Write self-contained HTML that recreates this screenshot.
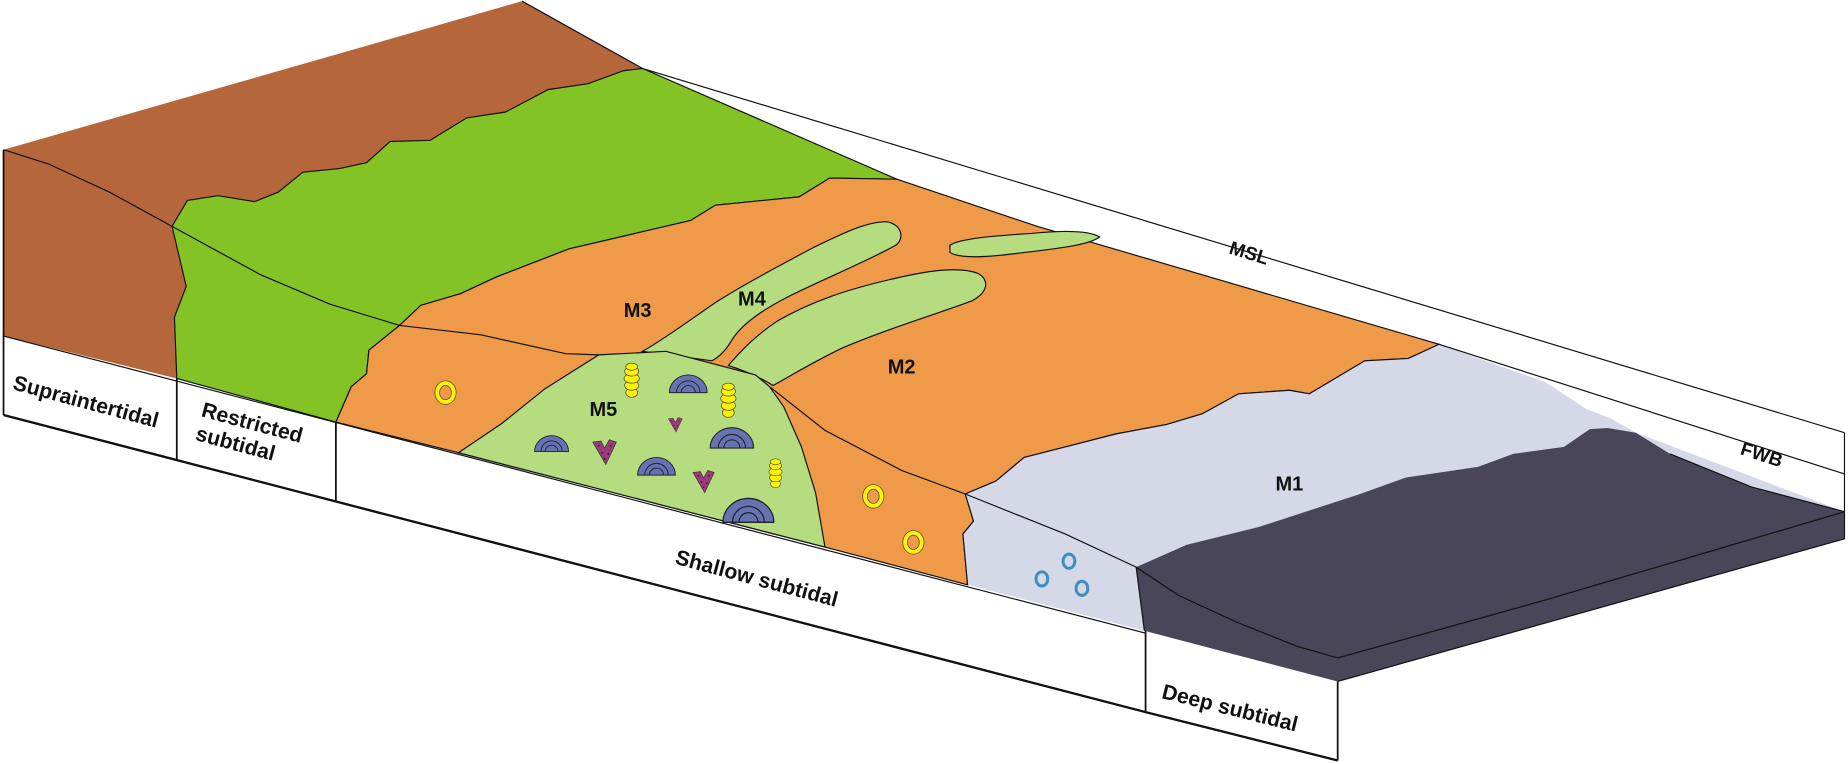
<!DOCTYPE html>
<html><head><meta charset="utf-8"><style>
html,body{margin:0;padding:0;background:#fff;}
svg{display:block;}
text{font-family:"Liberation Sans",sans-serif;font-weight:bold;fill:#111;}
</style></head><body>
<svg width="1848" height="764" viewBox="0 0 1568 648" preserveAspectRatio="none" xmlns="http://www.w3.org/2000/svg">
<defs>
<g id="dome"><path d="M-16,0 A16,15 0 0 1 16,0 Z" fill="#6573b4" stroke="#222" stroke-width="0.8"/><path d="M-10,0 A10,10 0 0 1 10,0 M-6,0 A6,6 0 0 1 6,0" fill="none" stroke="#222" stroke-width="0.8"/></g>
<g id="cyl" stroke="#444" stroke-width="0.6" fill="#fff200"><ellipse cx="0" cy="11" rx="5" ry="4"/><ellipse cx="0" cy="5" rx="6" ry="4"/><ellipse cx="0" cy="-1" rx="6.5" ry="4"/><ellipse cx="0" cy="-7" rx="6" ry="4"/><ellipse cx="0" cy="-11" rx="5" ry="3"/></g>
<g id="vee"><path d="M-10,-8 L-3,-9 L0,-3 L4,-10 L10,-8 L1,11 Z" fill="#9b3a7a" stroke="#333" stroke-width="0.6"/><g fill="#222"><circle cx="-5" cy="-5" r="0.8"/><circle cx="5" cy="-5" r="0.8"/><circle cx="-2" cy="1" r="0.8"/><circle cx="3" cy="2" r="0.8"/><circle cx="0" cy="6" r="0.8"/></g></g>
</defs>

<polygon points="3,285 972,537 1135,578 1135,645 972,604 3,352" fill="#fff"/>

<polygon points="3,127 443,1 545,58 529,60 499,71 465,76 429,95 396,100 365,119 331,120 311,138 288,143 257,146 236,163 216,171 185,166 159,170 146,192 158,243 148,269 150,321 3,285" fill="#b5663b"/>
<polygon points="545,58 761,152 704,151 678,167 607,174 586,187 483,211 421,235 391,249 357,259 339,276 313,297 311,317 298,328 285,358 150,321 148,269 158,243 146,192 159,170 185,166 216,171 236,163 257,146 288,143 311,138 331,120 365,119 396,100 429,95 465,76 499,71 529,60" fill="#84c326" stroke="#111" stroke-width="1"/>
<polygon points="761,152 880,192 1221,292 1195,304 1158,306 1111,334 1094,331 1051,334 1020,351 990,360 947,368 908,378 869,388 845,408 819,419 826,442 817,453 821,496 700,464 389,384 285,358 298,328 311,317 313,297 339,276 357,259 391,249 421,235 483,211 586,187 607,174 678,167 704,151" fill="#ee9a49" stroke="#111" stroke-width="1"/>
<polygon points="1221,292 1195,304 1158,306 1111,334 1094,331 1051,334 1020,351 990,360 947,368 908,378 869,388 845,408 819,419 826,442 817,453 821,496 971,535 1135,578 1565,457 1565,434 1388,367 1367,355 1346,347 1311,324" fill="#d5d8e6"/>
<polyline points="1221,292 1195,304 1158,306 1111,334 1094,331 1051,334 1020,351 990,360 947,368 908,378 869,388 845,408 819,419 826,442 817,453 821,496" fill="none" stroke="#111" stroke-width="1"/>
<polygon points="964,481 1007,462 1068,447 1154,419 1193,405 1254,396 1284,385 1327,379 1349,364 1364,363 1388,367 1417,385 1486,413 1565,434 1565,457 1135,578 971,535" fill="#4a4659"/>
<polyline points="1417,385 1486,413 1565,434 1565,457 1135,578" fill="none" stroke="#111" stroke-width="1"/>
<polyline points="964,481 971,535" fill="none" stroke="#111" stroke-width="1"/>

<!-- M4 lobes -->
<path d="M545,298 C565,287 590,268 608,256 C630,242 660,226 690,210 C715,198 735,188 752,188 C765,190 768,202 760,208 C735,222 700,236 668,252 C645,264 628,276 620,290 C615,298 610,303 604,306 Z" fill="#b6dc80" stroke="#111" stroke-width="1"/>
<path d="M618,310 C630,296 642,284 660,272 C690,255 720,245 760,236 C790,229 815,226 830,232 C840,238 838,248 825,255 C790,268 750,280 715,295 C690,307 672,318 656,327 C645,320 630,314 618,310 Z" fill="#b6dc80" stroke="#111" stroke-width="1"/>
<path d="M806,208 C815,202 845,200 875,198 C905,195 925,196 933,201 C925,207 905,210 870,214 C840,218 815,220 806,214 Z" fill="#b6dc80" stroke="#111" stroke-width="1"/>

<polygon points="389,384 426,359 462,330 508,301 565,298 641,318 653,328 665,345 680,379 692,418 700,464" fill="#b6dc80" stroke="#111" stroke-width="1"/>

<polyline points="3,127 41,139 93,163 146,192 221,233 280,258 339,276 408,284 480,300 508,301" fill="none" stroke="#111" stroke-width="1"/>
<polyline points="653,328 700,365 765,399 819,419 869,439 904,453 964,481 1000,505 1050,528 1100,548 1135,558 1311,509 1565,434" fill="none" stroke="#111" stroke-width="1"/>

<line x1="443" y1="1" x2="545" y2="58" stroke="#111" stroke-width="1"/>
<line x1="545" y1="58" x2="1565" y2="367" stroke="#111" stroke-width="1"/>
<line x1="1221" y1="292" x2="1565" y2="402" stroke="#111" stroke-width="1"/>
<line x1="1565" y1="367" x2="1565" y2="434" stroke="#111" stroke-width="1"/>

<g stroke="#111" fill="none">
<line x1="3" y1="127" x2="3" y2="352" stroke-width="1.5"/>
<line x1="3" y1="352" x2="972" y2="604" stroke-width="2"/>
<line x1="3" y1="285" x2="972" y2="537" stroke-width="1"/>
<line x1="150" y1="321" x2="150" y2="390" stroke-width="1.5"/>
<line x1="285" y1="358" x2="285" y2="425" stroke-width="1.5"/>
<line x1="972" y1="535" x2="972" y2="604" stroke-width="1.5"/>
<line x1="972" y1="604" x2="1135" y2="645" stroke-width="2"/>
<line x1="1135" y1="578" x2="1135" y2="645" stroke-width="1.5"/>
</g>

<g fill="none" stroke="#fff200" stroke-width="4">
<ellipse cx="378" cy="333" rx="7" ry="8"/>
<ellipse cx="741" cy="421" rx="7" ry="8"/>
<ellipse cx="775" cy="460" rx="7" ry="8"/>
</g>
<g fill="none" stroke="#444" stroke-width="0.6">
<ellipse cx="378" cy="333" rx="9" ry="10"/><ellipse cx="378" cy="333" rx="5" ry="6"/>
<ellipse cx="741" cy="421" rx="9" ry="10"/><ellipse cx="741" cy="421" rx="5" ry="6"/>
<ellipse cx="775" cy="460" rx="9" ry="10"/><ellipse cx="775" cy="460" rx="5" ry="6"/>
</g>
<g fill="none" stroke="#3a8fc4" stroke-width="2.5">
<ellipse cx="884" cy="491" rx="5" ry="6"/>
<ellipse cx="907" cy="476" rx="5" ry="6"/>
<ellipse cx="918" cy="499" rx="5" ry="6"/>
</g>
<use href="#cyl" transform="translate(536,322)"/>
<use href="#cyl" transform="translate(618,339)"/>
<use href="#cyl" transform="translate(658,401) scale(0.85)"/>
<use href="#dome" transform="translate(584,333)"/>
<use href="#dome" transform="translate(468,383) scale(0.9)"/>
<use href="#dome" transform="translate(621,380) scale(1.15)"/>
<use href="#dome" transform="translate(557,403)"/>
<use href="#dome" transform="translate(635,443) scale(1.35)"/>
<use href="#vee" transform="translate(573,360) scale(0.6)"/>
<use href="#vee" transform="translate(513,383) scale(1.0)"/>
<use href="#vee" transform="translate(597,408) scale(0.9)"/>

<g font-size="17" text-anchor="middle">
<text x="541" y="269">M3</text>
<text x="638" y="259">M4</text>
<text x="765" y="317">M2</text>
<text x="512" y="353">M5</text>
<text x="1094" y="416">M1</text>
</g>
<text x="1060" y="220" font-size="16" text-anchor="middle" transform="rotate(17 1060 214)">MSL</text>
<text x="1495" y="391" font-size="16" text-anchor="middle" transform="rotate(18 1495 385)">FWB</text>
<g font-size="18">
<text x="10" y="330" transform="rotate(15 10 330)">Supraintertidal</text>
<text x="170" y="353" transform="rotate(15 170 353)">Restricted</text>
<text x="165" y="373" transform="rotate(15 165 373)">subtidal</text>
<text x="572" y="478" transform="rotate(15 572 478)">Shallow subtidal</text>
<text x="985" y="592" transform="rotate(14 985 592)">Deep subtidal</text>
</g>
</svg>
</body></html>
